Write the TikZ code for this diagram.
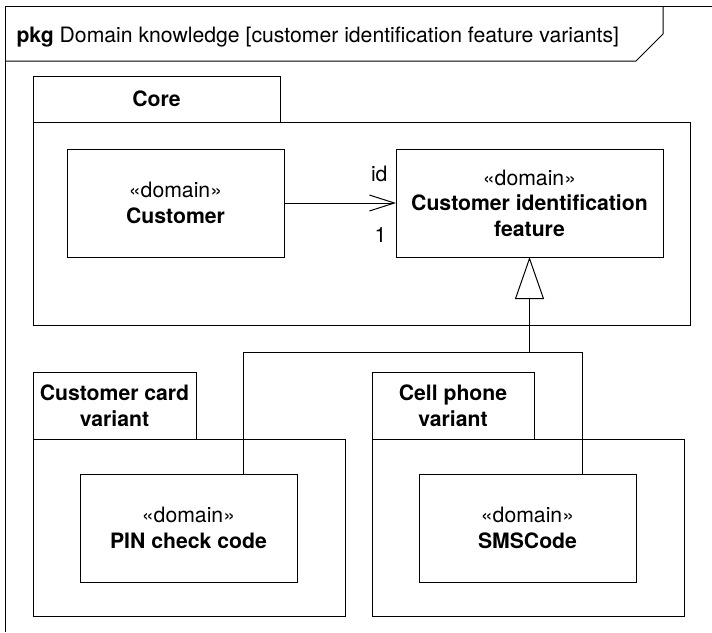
\documentclass[tikz,border=0pt]{standalone}
\usepackage{fontspec}
\setmainfont{TeX Gyre Heros}
\usepackage{tikz}
\usetikzlibrary{positioning, calc, arrows.meta}
\newcommand{\umlsize}{\fontsize{21.2}{25.5}\selectfont}

\begin{document}
\begin{tikzpicture}[
    x=1pt, y=-1pt,
    line width=1pt,
    pkgbody/.style={draw, rectangle, inner sep=0pt, outer sep=0pt},
    pkgtab/.style={draw, rectangle, inner sep=0pt, outer sep=0pt, font=\umlsize\bfseries, align=center},
    domclass/.style={draw, rectangle, inner sep=0pt, outer sep=0pt, minimum height=108pt, font=\umlsize, align=center},
    mult/.style={inner sep=0pt, font=\umlsize},
    assoc/.style={-{Straight Barb[length=25pt, width=16pt]}},
    gen/.style={-{Triangle[open, length=42pt, width=29pt]}},
  ]
    \useasboundingbox (0,0) rectangle (712,632);

    % Frame and heading
    \draw (712,6) -- (5,6) -- (5,632);
    \draw (5,61) -- (636,61) -- (663,34) -- (663,6);
    \node[anchor=base west, inner sep=0pt, font=\umlsize] (title) at (16,42)
      {\textbf{pkg} Domain knowledge [customer identification feature variants]};

    % Packages
    \node[pkgbody, minimum width=657pt, minimum height=203pt] (core) at (361.5,223.5) {};
    \node[pkgtab, minimum width=247pt, minimum height=46pt, above right=0pt and 0pt of core.north west] (coretab) {Core};

    \node[pkgbody, minimum width=312pt, minimum height=177pt] (card) at (189,527.5) {};
    \node[pkgtab, minimum width=163pt, minimum height=67pt, above right=0pt and 0pt of card.north west] (cardtab) {Customer card\\variant};

    \node[pkgbody, minimum width=312pt, minimum height=177pt] (cell) at (528,527.5) {};
    \node[pkgtab, minimum width=162pt, minimum height=67pt, above right=0pt and 0pt of cell.north west] (celltab) {Cell phone\\variant};

    % Classes
    \node[domclass, minimum width=217pt] (cust) at (175.5,203) {«domain»\\\textbf{Customer}};
    \node[domclass, minimum width=267pt] (ident) at (529.5,203) {«domain»\\\textbf{Customer identification}\\\textbf{feature}};
    \node[domclass, minimum width=217pt] (pin) at (188.5,528) {«domain»\\\textbf{PIN check code}};
    \node[domclass, minimum width=217pt] (sms) at (527.5,528) {«domain»\\\textbf{SMSCode}};

    % Association
    \draw[assoc] (cust) -- (ident);
    \node[mult, above left=21pt and 8pt of ident.west] (idlbl) {id};
    \node[mult, below left=24pt and 9pt of ident.west] (onelbl) {1};

    % Generalization
    \coordinate (join) at (ident.south |- 0,352);
    \draw ($(pin.north)+(54.5,0)$) |- (join);
    \draw ($(sms.north)+(54.5,0)$) |- (join);
    \draw[gen] (join) -- (ident.south);
  \end{tikzpicture}
\end{document}
